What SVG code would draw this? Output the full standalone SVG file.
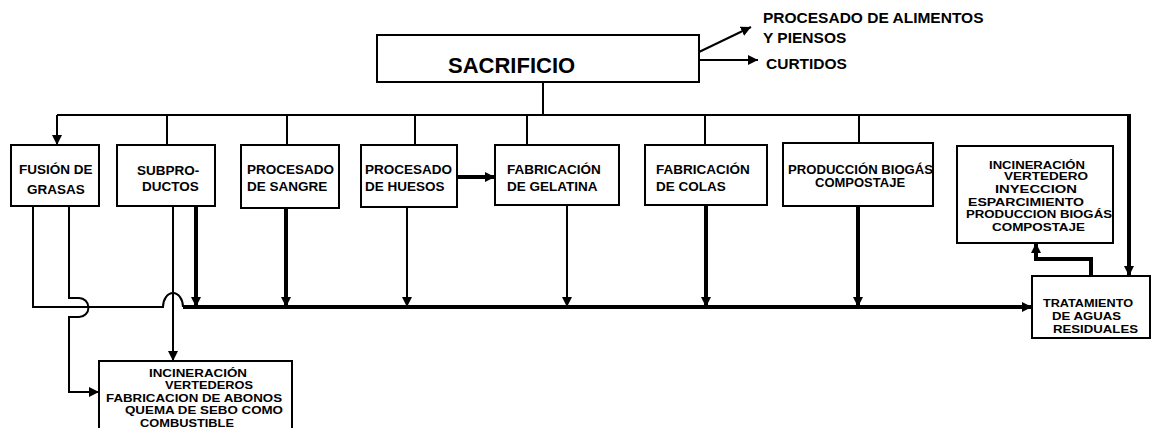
<svg xmlns="http://www.w3.org/2000/svg" width="1153" height="428" viewBox="0 0 1153 428">
<style>
text{font-family:"Liberation Sans",Arial,sans-serif;font-weight:bold;fill:#000}
.box{fill:#fff;stroke:#000;stroke-width:2}
.t{font-size:13.5px}
.s{font-size:13px}
.c{font-size:11.5px}
.l{font-size:15.5px}
.thin{fill:none;stroke:#000;stroke-width:2}
.thick{fill:none;stroke:#000;stroke-width:4}
.arr{marker-end:url(#ah)}
</style>
<defs>
<marker id="ah" viewBox="0 0 10 10" refX="10" refY="5" markerWidth="10" markerHeight="11" markerUnits="userSpaceOnUse" orient="auto">
<path d="M0,0 L10,5 L0,10 z" fill="#000"/>
</marker>
</defs>
<rect width="1153" height="428" fill="#fff"/>
<g id="connectors">
<path class="thin arr" d="M699,52 L751,27"/>
<path class="thin arr" d="M699,60 H758"/>
<path class="thin" d="M543,82 V115"/>
<path class="thin" d="M57,115 H1129"/>
<path class="thin arr" d="M57,115 V145"/>
<path class="thin" d="M167,115 V145 M287,115 V145 M415,115 V145 M527,115 V145 M705,115 V145 M859,115 V143"/>
<path class="thick arr" d="M1129,114 V276"/>
<path class="thick arr" d="M457,177 H495"/>
<path class="thick arr" d="M196,206 V307"/>
<path class="thick arr" d="M286,208 V307"/>
<path class="thick arr" d="M706,205 V307"/>
<path class="thick arr" d="M858,206 V307"/>
<path class="thin arr" d="M407,207 V307"/>
<path class="thin arr" d="M567,205 V307"/>
<path class="thick arr" d="M183,307 H1032"/>
<path class="thin" d="M33,206 V307 H163 A10,14 0 0 1 183,307"/>
<path class="thin arr" d="M69,206 V298 H79 A9.5,9.5 0 0 1 79,317 H69 V392 H99"/>
<path class="thin arr" d="M173,206 V361"/>
<path class="thick arr" d="M1091,276 V259 H1036 V243"/>
</g>
<g id="n-sacrificio">
<rect class="box" x="377" y="35" width="322" height="47"/>
<text x="448" y="73" font-size="22">SACRIFICIO</text>
</g>
<g id="n-alimentos">
<text class="l" x="763" y="23">PROCESADO DE ALIMENTOS</text>
<text class="l" x="763" y="43">Y PIENSOS</text>
</g>
<g id="n-curtidos">
<text class="l" x="766" y="69">CURTIDOS</text>
</g>
<g id="n-fusion">
<rect class="box" x="11" y="145" width="88" height="61"/>
<text class="t" x="19" y="174" font-size="14">FUSIÓN DE</text>
<text class="t" x="27" y="194">GRASAS</text>
</g>
<g id="n-subproductos">
<rect class="box" x="117" y="145" width="98" height="61"/>
<text class="t" x="137" y="175">SUBPRO-</text>
<text class="t" x="142" y="191">DUCTOS</text>
</g>
<g id="n-sangre">
<rect class="box" x="241" y="145" width="98" height="63"/>
<text class="t" x="247" y="174">PROCESADO</text>
<text class="t" x="247" y="191">DE SANGRE</text>
</g>
<g id="n-huesos">
<rect class="box" x="361" y="145" width="96" height="62"/>
<text class="t" x="365" y="174">PROCESADO</text>
<text class="t" x="365" y="191">DE HUESOS</text>
</g>
<g id="n-gelatina">
<rect class="box" x="495" y="145" width="124" height="60"/>
<text class="t" x="507" y="174">FABRICACIÓN</text>
<text class="t" x="507" y="191">DE GELATINA</text>
</g>
<g id="n-colas">
<rect class="box" x="645" y="145" width="122" height="60"/>
<text class="t" x="656" y="174">FABRICACIÓN</text>
<text class="t" x="656" y="191">DE COLAS</text>
</g>
<g id="n-biogas">
<rect class="box" x="783" y="143" width="150" height="63"/>
<text class="s" x="788" y="174" textLength="145" lengthAdjust="spacingAndGlyphs">PRODUCCIÓN BIOGÁS</text>
<text class="s" x="815" y="187">COMPOSTAJE</text>
</g>
<g id="n-destinos-aguas">
<rect class="box" x="957" y="146" width="156" height="97"/>
<text class="c" x="989" y="169" textLength="96" lengthAdjust="spacingAndGlyphs">INCINERACIÓN</text>
<text class="c" x="1004" y="180" textLength="84" lengthAdjust="spacingAndGlyphs">VERTEDERO</text>
<text class="c" x="995" y="193" textLength="82" lengthAdjust="spacingAndGlyphs">INYECCION</text>
<text class="c" x="968" y="206" textLength="116" lengthAdjust="spacingAndGlyphs">ESPARCIMIENTO</text>
<text class="c" x="966" y="218" textLength="146" lengthAdjust="spacingAndGlyphs">PRODUCCION BIOGÁS</text>
<text class="c" x="992" y="231" textLength="93" lengthAdjust="spacingAndGlyphs">COMPOSTAJE</text>
</g>
<g id="n-tratamiento">
<rect class="box" x="1032" y="276" width="118" height="62"/>
<text class="c" x="1043" y="307" textLength="90" lengthAdjust="spacingAndGlyphs">TRATAMIENTO</text>
<text class="c" x="1052" y="320" textLength="69" lengthAdjust="spacingAndGlyphs">DE AGUAS</text>
<text class="c" x="1053" y="333" textLength="85" lengthAdjust="spacingAndGlyphs">RESIDUALES</text>
</g>
<g id="n-destinos-subproductos">
<rect class="box" x="99" y="361" width="193" height="80"/>
<text class="c" x="149" y="377" textLength="98" lengthAdjust="spacingAndGlyphs">INCINERACIÓN</text>
<text class="c" x="165" y="389" textLength="88" lengthAdjust="spacingAndGlyphs">VERTEDEROS</text>
<text class="c" x="106" y="402" textLength="176" lengthAdjust="spacingAndGlyphs">FABRICACION DE ABONOS</text>
<text class="c" x="125" y="414" textLength="158" lengthAdjust="spacingAndGlyphs">QUEMA DE SEBO COMO</text>
<text class="c" x="140" y="427" textLength="94" lengthAdjust="spacingAndGlyphs">COMBUSTIBLE</text>
</g>
</svg>
